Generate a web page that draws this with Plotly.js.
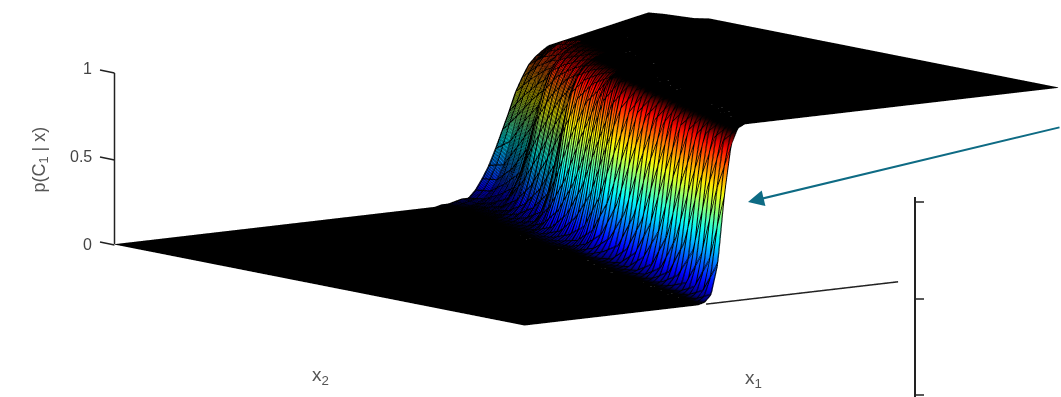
<!DOCTYPE html>
<html><head><meta charset="utf-8">
<script src="https://cdn.plot.ly/plotly-3.0.1.min.js"></script>
<style>html,body{margin:0;padding:0;background:#fff}#c{width:1061px;height:397px}</style></head>
<body><div id="c"></div>
<script>
const x1Values=[0,.3,.3125,.325,.3375,.35,.3625,.375,.3875,.4,.4125,.425,.4375,.45,.4625,.475,.4875,.5,.5125,.525,.5375,.55,.5625,.575,.5875,.6,.6125,.625,.6375,.65,.6625,.675,.6875,.7,.7125,.725,.7375,.75,.7625,.775,.7875,.8,.8125,1];
const x2Values=[0,.037,.074,.111,.148,.185,.222,.259,.296,.333,.37,.407,.444,.481,.519,.556,.593,.63,.667,.704,.741,.778,.815,.852,.889,.926,.963,1];
const probability=[
[0,0,0,0,.01,.05,.22,.61,.89,.98,1,1,1,1,1,1,1,1,1,1,1,1,1,1,1,1,1,1,1,1,1,1,1,1,1,1,1,1,1,1,1,1,1,1],
[0,0,0,0,0,.01,.05,.22,.61,.89,.98,1,1,1,1,1,1,1,1,1,1,1,1,1,1,1,1,1,1,1,1,1,1,1,1,1,1,1,1,1,1,1,1,1],
[0,0,0,0,0,0,.01,.05,.22,.61,.89,.98,1,1,1,1,1,1,1,1,1,1,1,1,1,1,1,1,1,1,1,1,1,1,1,1,1,1,1,1,1,1,1,1],
[0,0,0,0,0,0,0,.01,.05,.22,.61,.89,.98,1,1,1,1,1,1,1,1,1,1,1,1,1,1,1,1,1,1,1,1,1,1,1,1,1,1,1,1,1,1,1],
[0,0,0,0,0,0,0,0,.02,.07,.25,.59,.87,.97,.99,1,1,1,1,1,1,1,1,1,1,1,1,1,1,1,1,1,1,1,1,1,1,1,1,1,1,1,1,1],
[0,0,0,0,0,0,0,0,0,.02,.07,.25,.59,.87,.97,.99,1,1,1,1,1,1,1,1,1,1,1,1,1,1,1,1,1,1,1,1,1,1,1,1,1,1,1,1],
[0,0,0,0,0,0,0,0,0,0,.02,.07,.25,.59,.87,.97,.99,1,1,1,1,1,1,1,1,1,1,1,1,1,1,1,1,1,1,1,1,1,1,1,1,1,1,1],
[0,0,0,0,0,0,0,0,0,0,0,.02,.07,.25,.59,.87,.97,.99,1,1,1,1,1,1,1,1,1,1,1,1,1,1,1,1,1,1,1,1,1,1,1,1,1,1],
[0,0,0,0,0,0,0,0,0,0,0,.01,.02,.09,.27,.58,.84,.95,.99,1,1,1,1,1,1,1,1,1,1,1,1,1,1,1,1,1,1,1,1,1,1,1,1,1],
[0,0,0,0,0,0,0,0,0,0,0,0,.01,.02,.09,.27,.58,.84,.95,.99,1,1,1,1,1,1,1,1,1,1,1,1,1,1,1,1,1,1,1,1,1,1,1,1],
[0,0,0,0,0,0,0,0,0,0,0,0,0,.01,.02,.09,.27,.58,.84,.95,.99,1,1,1,1,1,1,1,1,1,1,1,1,1,1,1,1,1,1,1,1,1,1,1],
[0,0,0,0,0,0,0,0,0,0,0,0,0,0,.01,.02,.09,.27,.58,.84,.95,.99,1,1,1,1,1,1,1,1,1,1,1,1,1,1,1,1,1,1,1,1,1,1],
[0,0,0,0,0,0,0,0,0,0,0,0,0,0,0,.01,.04,.11,.29,.57,.82,.94,.98,.99,1,1,1,1,1,1,1,1,1,1,1,1,1,1,1,1,1,1,1,1],
[0,0,0,0,0,0,0,0,0,0,0,0,0,0,0,0,.01,.04,.11,.29,.57,.82,.94,.98,.99,1,1,1,1,1,1,1,1,1,1,1,1,1,1,1,1,1,1,1],
[0,0,0,0,0,0,0,0,0,0,0,0,0,0,0,0,0,.01,.04,.11,.29,.57,.82,.94,.98,.99,1,1,1,1,1,1,1,1,1,1,1,1,1,1,1,1,1,1],
[0,0,0,0,0,0,0,0,0,0,0,0,0,0,0,0,0,0,.01,.04,.11,.29,.57,.82,.94,.98,.99,1,1,1,1,1,1,1,1,1,1,1,1,1,1,1,1,1],
[0,0,0,0,0,0,0,0,0,0,0,0,0,0,0,0,0,0,.01,.02,.05,.14,.31,.56,.77,.87,.92,.95,.97,.98,.99,1,1,1,1,1,1,1,1,1,1,1,1,1],
[0,0,0,0,0,0,0,0,0,0,0,0,0,0,0,0,0,0,0,.01,.02,.05,.14,.31,.56,.77,.87,.92,.95,.97,.98,.99,1,1,1,1,1,1,1,1,1,1,1,1],
[0,0,0,0,0,0,0,0,0,0,0,0,0,0,0,0,0,0,0,0,.01,.02,.05,.14,.31,.56,.77,.87,.92,.95,.97,.98,.99,1,1,1,1,1,1,1,1,1,1,1],
[0,0,0,0,0,0,0,0,0,0,0,0,0,0,0,0,0,0,0,0,0,.01,.02,.05,.14,.31,.56,.77,.87,.92,.95,.97,.98,.99,1,1,1,1,1,1,1,1,1,1],
[0,0,0,0,0,0,0,0,0,0,0,0,0,0,0,0,0,0,0,0,0,0,.01,.02,.04,.09,.19,.35,.53,.69,.8,.86,.9,.93,.95,.96,.97,.98,.99,1,1,1,1,1],
[0,0,0,0,0,0,0,0,0,0,0,0,0,0,0,0,0,0,0,0,0,0,0,.01,.02,.04,.09,.19,.35,.53,.69,.8,.86,.9,.93,.95,.96,.97,.98,.99,1,1,1,1],
[0,0,0,0,0,0,0,0,0,0,0,0,0,0,0,0,0,0,0,0,0,0,0,0,.01,.02,.04,.09,.19,.35,.53,.69,.8,.86,.9,.93,.95,.96,.97,.98,.99,1,1,1],
[0,0,0,0,0,0,0,0,0,0,0,0,0,0,0,0,0,0,0,0,0,0,0,0,0,.01,.02,.04,.09,.19,.35,.53,.69,.8,.86,.9,.93,.95,.96,.97,.98,.99,1,1],
[0,0,0,0,0,0,0,0,0,0,0,0,0,0,0,0,0,0,0,0,0,0,0,0,0,0,.01,.02,.04,.08,.14,.22,.35,.49,.6,.69,.76,.81,.84,.87,.89,.91,.92,.985],
[0,0,0,0,0,0,0,0,0,0,0,0,0,0,0,0,0,0,0,0,0,0,0,0,0,0,0,.01,.02,.04,.08,.14,.22,.35,.49,.6,.69,.76,.81,.84,.87,.89,.91,.98],
[0,0,0,0,0,0,0,0,0,0,0,0,0,0,0,0,0,0,0,0,0,0,0,0,0,0,0,0,.01,.02,.04,.08,.14,.22,.35,.49,.6,.69,.76,.81,.84,.87,.89,.975],
[0,0,0,0,0,0,0,0,0,0,0,0,0,0,0,0,0,0,0,0,0,0,0,0,0,0,.01,.01,.02,.03,.03,.07,.13,.2,.29,.39,.49,.6,.68,.75,.79,.82,.845,.966]
];
const zTicks=[0,.5,1];
const zTickLabels=['0','0.5','1'];
const floorLineX=[.34,.70];
const floorLineY=[0,0];
const floorLineZ=[0,0];
const darkJet=[[0,'#000'],[.004,'#000010'],[.02,'#00007a'],[.09,'#0000ff'],[.36,'#00ffff'],[.61,'#ffff00'],[.86,'#ff0000'],[.93,'#600000'],[.96,'#000'],[1,'#000']];

function meshLayer(xc,yc,showFace){
 return {type:'surface',x:x1Values,y:x2Values,z:probability,colorscale:darkJet,cmin:0,cmax:1,showscale:false,
  hidesurface:!showFace,hoverinfo:'skip',
  lighting:{ambient:1,diffuse:0,specular:0,fresnel:0,roughness:1},
  contours:{
   x:xc?{show:true,start:xc[0],end:xc[1],size:xc[2],color:'#000',width:4}:{show:false},
   y:yc?{show:true,start:yc[0],end:yc[1],size:yc[2],color:'#000',width:4}:{show:false},
   z:{show:false}
  }};
}
const traces=[
 meshLayer([0,1,.0125],[0,1,.0172],true),
 meshLayer([.0005,1,.0125],[.0024,1,.0172],false),
 meshLayer(null,[.5,.7,.0086],false),
 meshLayer(null,[.7,.85,.0048],false),
 meshLayer(null,[.85,1,.0034],false)
];
const floorLine={type:'scatter3d',mode:'lines',x:floorLineX,y:floorLineY,z:floorLineZ,line:{color:'#222',width:3},hoverinfo:'skip',showlegend:false};
traces.push(floorLine);
const hidden={visible:false,range:[0,1],showgrid:false,zeroline:false,showbackground:false,showspikes:false};
const tickFont={family:'Liberation Sans, Arial, sans-serif',size:16,color:'#444'};
const axisLine={color:'#222',width:1.5};
const layout={width:1061,height:397,margin:{l:0,r:0,t:0,b:0},paper_bgcolor:'#fff',showlegend:false,
 scene:{domain:{x:[.1056,1],y:[.164,1]},
  aspectmode:'manual',aspectratio:{x:4.053,y:4.053,z:1.07},
  camera:{projection:{type:'orthographic'},up:{x:0,y:0,z:1},center:{x:0,y:0,z:0},eye:{x:-6.02,y:-7.84,z:1.516}},
  xaxis:hidden,yaxis:hidden,
  zaxis:{visible:false,range:[0,1],showgrid:false,zeroline:false,showbackground:false,showspikes:false},
  annotations:zTicks.map((z,i)=>({x:0,y:1,z:z,text:zTickLabels[i],showarrow:false,xanchor:'right',xshift:-21,font:tickFont}))
 },
 shapes:[
  {type:'line',xref:'paper',yref:'paper',x0:114.5/1061,x1:114.5/1061,y0:1-244/397,y1:1-73/397,line:axisLine},
  {type:'line',xref:'paper',yref:'paper',x0:100/1061,x1:114.5/1061,y0:1-70/397,y1:1-73/397,line:axisLine},
  {type:'line',xref:'paper',yref:'paper',x0:100/1061,x1:114.5/1061,y0:1-157/397,y1:1-160/397,line:axisLine},
  {type:'line',xref:'paper',yref:'paper',x0:100/1061,x1:114.5/1061,y0:1-242/397,y1:1-245/397,line:axisLine},
  {type:'line',xref:'paper',yref:'paper',x0:915/1061,x1:915/1061,y0:1-197/397,y1:0,line:{color:'#222',width:2}},
  {type:'line',xref:'paper',yref:'paper',x0:915/1061,x1:924/1061,y0:1-202/397,y1:1-202/397,line:{color:'#222',width:1.5}},
  {type:'line',xref:'paper',yref:'paper',x0:915/1061,x1:924/1061,y0:1-299/397,y1:1-299/397,line:{color:'#222',width:1.5}},
  {type:'line',xref:'paper',yref:'paper',x0:915/1061,x1:924/1061,y0:1-395/397,y1:1-395/397,line:{color:'#222',width:1.5}}
 ],
 annotations:[
  {xref:'paper',yref:'paper',x:27/1061,y:1-160/397,text:'p(C<sub>1</sub> | x)',textangle:-90,showarrow:false,font:{family:'Liberation Sans, Arial, sans-serif',size:18,color:'#555'}},
  {xref:'paper',yref:'paper',x:310/1061,y:1-390/397,text:'x<sub>2</sub>',showarrow:false,font:{family:'Liberation Sans, Arial, sans-serif',size:19,color:'#555'}},
  {xref:'paper',yref:'paper',x:764/1061,y:1-393/397,text:'x<sub>1</sub>',showarrow:false,font:{family:'Liberation Sans, Arial, sans-serif',size:19,color:'#555'}},
  {xref:'paper',yref:'paper',x:748/1061,y:1-202/397,text:'',showarrow:true,arrowhead:2,arrowsize:1.6,arrowwidth:2,arrowcolor:'#0e6b84',ax:313,ay:-75}
 ]};
Plotly.newPlot('c',traces,layout,{displayModeBar:false});
</script></body></html>
